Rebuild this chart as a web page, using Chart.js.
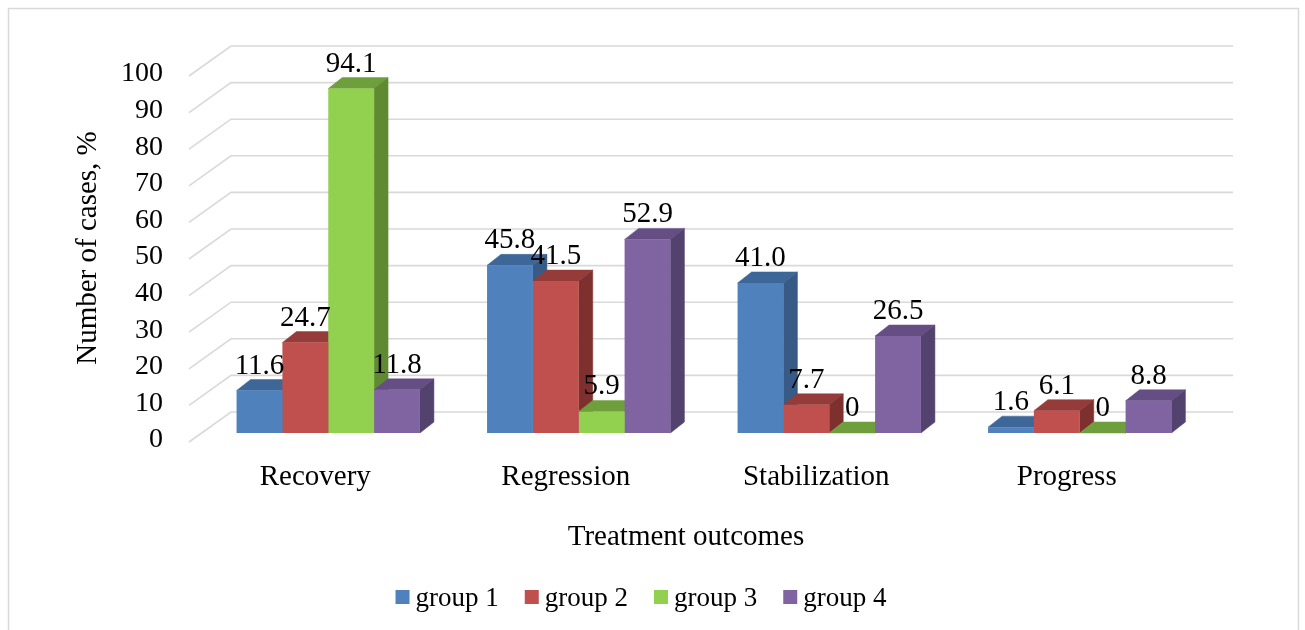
<!DOCTYPE html>
<html>
<head>
<meta charset="utf-8">
<title>Treatment outcomes</title>
<script src="https://cdn.jsdelivr.net/npm/chart.js@4.4.1/dist/chart.umd.min.js"></script>
<style>
  html, body { margin: 0; padding: 0; background: #ffffff; overflow: hidden; }
  canvas { display: block; }
</style>
</head>
<body>
<canvas id="chart" width="1305" height="630"></canvas>
<script>
// ---- data ----
const categories = ['Recovery', 'Regression', 'Stabilization', 'Progress'];
const seriesNames = ['group 1', 'group 2', 'group 3', 'group 4'];
const group1 = [11.6, 45.8, 41.0, 1.6];
const group2 = [24.7, 41.5, 7.7, 6.1];
const group3 = [94.1, 5.9, 0, 0];
const group4 = [11.8, 52.9, 26.5, 8.8];
const yTicks = [0, 10, 20, 30, 40, 50, 60, 70, 80, 90, 100];
const xTitle = 'Treatment outcomes';
const yTitle = 'Number of cases, %';

// ---- styling ----
const frontColors = ['#4F81BD', '#C0504D', '#92D050', '#8064A2'];
const topColors   = ['#3E6799', '#953C3A', '#6F9E3D', '#654E83'];
const sideColors  = ['#375A86', '#7E302E', '#5F8A32', '#54426E'];
const FONT = '"Liberation Serif", "Times New Roman", serif';
const BIG = 29;      // category labels, titles, value labels
const TICK = 28;     // value axis labels
const LEG = 27;      // legend entries
const DEPTH = { x: 14, y: 11 };        // bar depth (oblique projection)
const BACK  = { x: 28, y: 21 };        // back wall offset from the bar plane
const FRONT = { x: -14, y: 9 };        // front edge of the floor

const seriesValues = [group1, group2, group3, group4];

function fmt(v) { return v === 0 ? '0' : v.toFixed(1); }

function poly(ctx, pts, color) {
  ctx.beginPath();
  ctx.moveTo(pts[0][0], pts[0][1]);
  for (let i = 1; i < pts.length; i++) ctx.lineTo(pts[i][0], pts[i][1]);
  ctx.closePath();
  ctx.fillStyle = color;
  ctx.fill();
  ctx.strokeStyle = color;
  ctx.lineWidth = 0.5;
  ctx.stroke();
}

const boxPlugin = {
  id: 'box3d',
  beforeDraw(chart) {
    const ctx = chart.ctx;
    ctx.save();
    ctx.strokeStyle = '#d9d9d9';
    ctx.lineWidth = 1.5;
    ctx.strokeRect(8.5, 8.5, 1290, 660);
    ctx.restore();
  },
  beforeDatasetsDraw(chart) {
    const ctx = chart.ctx;
    const area = chart.chartArea;
    const y = chart.scales.y;
    ctx.save();
    // back wall gridlines with the floor/side diagonals
    ctx.strokeStyle = '#d9d9d9';
    ctx.lineWidth = 1.6;
    yTicks.forEach(v => {
      const py = y.getPixelForValue(v);
      ctx.beginPath();
      ctx.moveTo(area.left + FRONT.x, py + FRONT.y);
      ctx.lineTo(area.left + BACK.x, py - BACK.y);
      ctx.lineTo(area.right + BACK.x, py - BACK.y);
      ctx.stroke();
    });
    // top and side faces, series in order so later bars cover earlier faces
    chart.data.datasets.forEach((ds, di) => {
      const meta = chart.getDatasetMeta(di);
      meta.data.forEach(bar => {
        const p = bar.getProps(['x', 'y', 'base', 'width'], true);
        const l = p.x - p.width / 2, r = p.x + p.width / 2;
        poly(ctx, [[l, p.y], [l + DEPTH.x, p.y - DEPTH.y], [r + DEPTH.x, p.y - DEPTH.y], [r, p.y]], topColors[di]);
        poly(ctx, [[r, p.y], [r + DEPTH.x, p.y - DEPTH.y], [r + DEPTH.x, p.base - DEPTH.y], [r, p.base]], sideColors[di]);
      });
    });
    ctx.restore();
  },
  afterDatasetsDraw(chart) {
    const ctx = chart.ctx;
    const area = chart.chartArea;
    ctx.save();
    ctx.font = BIG + 'px ' + FONT;
    ctx.fillStyle = '#000000';
    ctx.textAlign = 'center';
    ctx.textBaseline = 'alphabetic';
    chart.data.datasets.forEach((ds, di) => {
      const meta = chart.getDatasetMeta(di);
      meta.data.forEach((bar, i) => {
        const p = bar.getProps(['x', 'y'], true);
        ctx.fillText(fmt(ds.data[i]), p.x, p.y - DEPTH.y - 6);
      });
    });
    // category axis title
    ctx.textBaseline = 'middle';
    ctx.fillText(xTitle, (area.left + area.right) / 2 - 18, 537);
    // value axis title, rotated
    ctx.translate(88, (area.top + area.bottom) / 2 - 2);
    ctx.rotate(-Math.PI / 2);
    ctx.fillText(yTitle, 0, 0);
    ctx.restore();
  },
  afterDraw(chart) {
    // legend row
    const ctx = chart.ctx;
    ctx.save();
    ctx.font = LEG + 'px ' + FONT;
    ctx.textBaseline = 'alphabetic';
    ctx.textAlign = 'left';
    const box = 14, gap = 6, spacing = 26;
    const widths = chart.data.datasets.map(ds => box + gap + ctx.measureText(ds.label).width);
    const total = widths.reduce((a, b) => a + b, 0) + spacing * (widths.length - 1);
    let x = 641 - total / 2;
    const baseY = 606;
    chart.data.datasets.forEach((ds, di) => {
      ctx.fillStyle = frontColors[di];
      ctx.fillRect(x, baseY - 16, box, box);
      ctx.fillStyle = '#000000';
      ctx.fillText(ds.label, x + box + gap, baseY);
      x += widths[di] + spacing;
    });
    ctx.restore();
  }
};

const chart = new Chart(document.getElementById('chart'), {
  type: 'bar',
  data: {
    labels: categories,
    datasets: seriesValues.map((vals, i) => ({
      label: seriesNames[i],
      data: vals,
      backgroundColor: frontColors[i],
      borderWidth: 0,
      categoryPercentage: 0.732,
      barPercentage: 1.0
    }))
  },
  options: {
    responsive: false,
    animation: false,
    devicePixelRatio: 1,
    layout: { padding: { left: 0, top: 67, right: 100, bottom: 75 } },
    plugins: {
      legend: { display: false },
      tooltip: { enabled: false }
    },
    scales: {
      x: {
        grid: { display: false, drawTicks: false },
        border: { display: false },
        ticks: {
          color: '#000000',
          font: { family: FONT, size: BIG },
          padding: 27,
          labelOffset: -13,
          maxRotation: 0
        },
        title: { display: false },
        afterFit(scale) { scale.height = 122; }
      },
      y: {
        min: 0,
        max: 100,
        grid: { display: false, drawTicks: false },
        border: { display: false },
        afterBuildTicks(scale) { scale.ticks = yTicks.map(v => ({ value: v })); },
        ticks: {
          color: '#000000',
          font: { family: FONT, size: TICK },
          padding: 40,
          labelOffset: 7
        },
        title: { display: false },
        afterFit(scale) { scale.width = 203; }
      }
    }
  },
  plugins: [boxPlugin]
});
</script>
</body>
</html>
